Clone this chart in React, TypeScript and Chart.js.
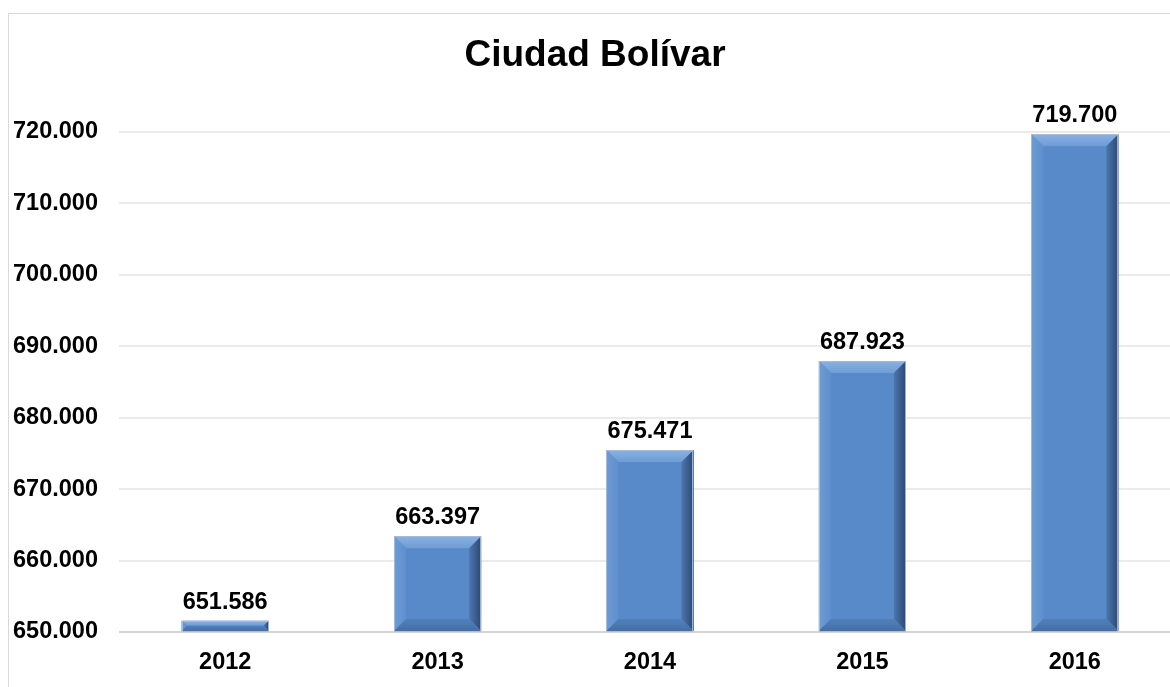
import React, { useEffect, useRef } from "react";
import { Chart, registerables } from "chart.js";

Chart.register(...registerables);

const categories = ["2012", "2013", "2014", "2015", "2016"];
const values = [651586, 663397, 675471, 687923, 719700];
const yMin = 650000;
const yMax = 720000;
const yStep = 10000;
const title = "Ciudad Bolívar";

const FONT = 'Arial, "Liberation Sans", sans-serif';

function fmt(v: number): string {
  return Math.round(v)
    .toString()
    .replace(/\B(?=(\d{3})+(?!\d))/g, ".");
}

const bevelPlugin = {
  id: "bevel",
  afterDatasetsDraw(chart: any) {
    const ctx = chart.ctx;
    const area = chart.chartArea;
    const meta = chart.getDatasetMeta(0);
    meta.data.forEach((bar: any, i: number) => {
      const p = bar.getProps(["x", "y", "base", "width"], true);
      const L = p.x - p.width / 2;
      const R = p.x + p.width / 2;
      const T = Math.max(area.top, Math.min(p.y, p.base));
      const B = Math.min(area.bottom, Math.max(p.y, p.base));
      const d = Math.min(12, (B - T) / 2, (R - L) / 2);
      ctx.save();
      // top
      let g = ctx.createLinearGradient(0, T, 0, T + d);
      g.addColorStop(0, "#8AB1E2");
      g.addColorStop(1, "#6E9CD6");
      ctx.fillStyle = g;
      ctx.beginPath();
      ctx.moveTo(L, T);
      ctx.lineTo(R, T);
      ctx.lineTo(R - d, T + d);
      ctx.lineTo(L + d, T + d);
      ctx.closePath();
      ctx.fill();
      // left
      g = ctx.createLinearGradient(L, 0, L + d, 0);
      g.addColorStop(0, "#6E9BD4");
      g.addColorStop(1, "#5F8FCD");
      ctx.fillStyle = g;
      ctx.beginPath();
      ctx.moveTo(L, T);
      ctx.lineTo(L + d, T + d);
      ctx.lineTo(L + d, B - d);
      ctx.lineTo(L, B);
      ctx.closePath();
      ctx.fill();
      // right
      g = ctx.createLinearGradient(R - d, 0, R, 0);
      g.addColorStop(0, "#4C76AD");
      g.addColorStop(1, "#2C4874");
      ctx.fillStyle = g;
      ctx.beginPath();
      ctx.moveTo(R, T);
      ctx.lineTo(R, B);
      ctx.lineTo(R - d, B - d);
      ctx.lineTo(R - d, T + d);
      ctx.closePath();
      ctx.fill();
      // bottom
      g = ctx.createLinearGradient(0, B - d, 0, B);
      g.addColorStop(0, "#5080BA");
      g.addColorStop(1, "#456FA5");
      ctx.fillStyle = g;
      ctx.beginPath();
      ctx.moveTo(L, B);
      ctx.lineTo(R, B);
      ctx.lineTo(R - d, B - d);
      ctx.lineTo(L + d, B - d);
      ctx.closePath();
      ctx.fill();
      // outline
      ctx.strokeStyle = "rgba(170,188,212,0.9)";
      ctx.lineWidth = 1;
      ctx.strokeRect(Math.round(L) + 0.5, Math.round(T) + 0.5, Math.round(R - L) - 1, Math.round(B - T));
      // value label
      ctx.fillStyle = "#000";
      ctx.font = `bold 23.5px ${FONT}`;
      ctx.textAlign = "center";
      ctx.textBaseline = "alphabetic";
      ctx.fillText(fmt(values[i]), p.x, T - 12);
      ctx.restore();
    });
  },
};

export default function App() {
  const ref = useRef<HTMLCanvasElement>(null);
  useEffect(() => {
    if (!ref.current) return;
    const chart = new Chart(ref.current, {
      type: "bar",
      data: {
        labels: categories,
        datasets: [
          {
            data: values,
            base: yMin,
            backgroundColor: "#5889C9",
            borderWidth: 0,
            categoryPercentage: 1,
            barPercentage: 0.41,
          },
        ],
      },
      options: {
        responsive: false,
        animation: false,
        layout: { padding: 0 },
        plugins: {
          legend: { display: false },
          tooltip: { enabled: false },
          title: {
            display: true,
            text: title,
            color: "#000",
            font: { family: FONT, size: 37, weight: "bold" },
            padding: { top: 20, bottom: 53.6 },
          },
        },
        scales: {
          x: {
            grid: { display: false, drawTicks: false },
            border: { display: false },
            ticks: {
              color: "#000",
              font: { family: FONT, size: 23.5, weight: "bold" },
              padding: 16,
            },
            afterFit: (axis: any) => {
              axis.height = 55;
            },
          },
          y: {
            min: yMin,
            max: yMax,
            grid: {
              drawTicks: false,
              color: (c: any) => (c.tick && c.tick.value === yMin ? "#D4D4D4" : "#EBEBEB"),
              lineWidth: 2,
            },
            border: { display: false },
            ticks: {
              stepSize: yStep,
              color: "#000",
              font: { family: FONT, size: 23.5, weight: "bold" },
              padding: 21,
              callback: (v: any) => fmt(Number(v)),
            },
            afterFit: (axis: any) => {
              axis.width = 110;
            },
          },
        },
      },
      plugins: [bevelPlugin],
    });
    return () => chart.destroy();
  }, []);
  return (
    <div
      style={{
        position: "absolute",
        left: 8,
        top: 13,
        width: 1162,
        height: 674,
        overflow: "hidden",
        borderLeft: "1px solid #D9D9D9",
        borderTop: "1px solid #D9D9D9",
        background: "#fff",
      }}
    >
      <canvas ref={ref} width={1172} height={673} style={{ display: "block" }} />
    </div>
  );
}
